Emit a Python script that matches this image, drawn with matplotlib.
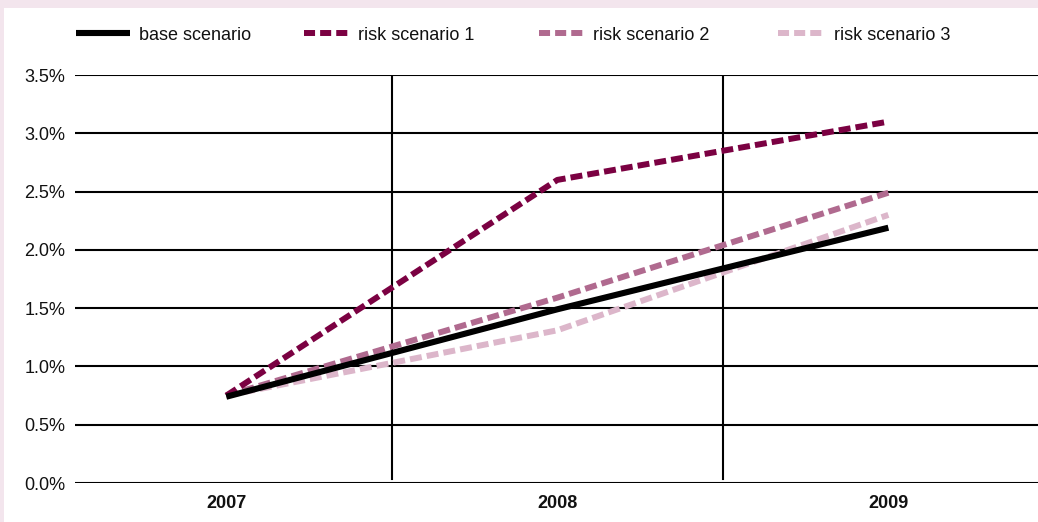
import matplotlib
matplotlib.use("Agg")
import matplotlib.pyplot as plt
from matplotlib.patches import Rectangle
from matplotlib.ticker import FuncFormatter

plt.rcParams["font.family"] = ["Liberation Sans", "DejaVu Sans"]

years = ["2007", "2008", "2009"]
base = [0.74, 1.49, 2.19]
risk1 = [0.75, 2.60, 3.10]
risk2 = [0.75, 1.59, 2.49]
risk3 = [0.75, 1.31, 2.30]
y_ticks = [0.0, 0.5, 1.0, 1.5, 2.0, 2.5, 3.0, 3.5]

W, H = 1038, 522
FS = 13
fig = plt.figure(figsize=(W / 100, H / 100), dpi=100, facecolor="#f3e5ed")
fig.patches.append(Rectangle((4 / W, 0), 1, 1 - 8 / H, transform=fig.transFigure,
                             facecolor="white", edgecolor="none", zorder=-10))

ax = fig.add_axes([75 / W, (H - 483) / H, (W - 75) / W, (483 - 75) / H])
ax.set_facecolor("none")

x = list(range(len(years)))
dash_style = dict(linewidth=4.3, dashes=(2.0, 0.85), dash_capstyle="butt", solid_capstyle="butt")
l3, = ax.plot(x, risk3, color="#dcb6ca", label="risk scenario 3", zorder=3, **dash_style)
l2, = ax.plot(x, risk2, color="#b06a8f", label="risk scenario 2", zorder=4, **dash_style)
l1, = ax.plot(x, risk1, color="#7b0142", label="risk scenario 1", zorder=5, **dash_style)
l0, = ax.plot(x, base, color="black", linewidth=4.4, solid_capstyle="butt",
              label="base scenario", zorder=6)

ax.set_xlim(-0.457, 2.452)
ax.set_ylim(0, 3.5)
ax.set_yticks(y_ticks)
ax.yaxis.set_major_formatter(FuncFormatter(lambda v, p: f"{v:.1f}%"))
ax.set_xticks(x)
ax.set_xticklabels(years, fontweight="bold")
ax.tick_params(axis="both", length=0, labelsize=FS, colors="#111111")
ax.tick_params(axis="y", pad=7)
ax.tick_params(axis="x", pad=9)

for v in y_ticks:
    ax.axhline(v, color="black", linewidth=1.5, zorder=1)
for v in [0.5, 1.5]:
    ax.axvline(v, ymin=0.01, ymax=1, color="black", linewidth=1.5, zorder=1)

for s in ax.spines.values():
    s.set_visible(False)

# one legend entry per series, each anchored at its own position along the top
entries = [(l0, 76, 3.0), (l1, 304, 2.5), (l2, 539, 2.5), (l3, 778, 2.6)]
for line, px, hl in entries:
    leg = fig.legend([line], [line.get_label()], loc="center left",
                     bbox_to_anchor=(px / W, 1 - 35 / H), frameon=False,
                     fontsize=FS, handlelength=hl, handletextpad=0.5,
                     borderaxespad=0, borderpad=0)
    for t in leg.get_texts():
        t.set_color("#111111")
    if line is not l0:
        leg.legend_handles[0].set_dashes((1.85, 0.85))

fig.savefig("out.png", dpi=100, facecolor=fig.get_facecolor())
